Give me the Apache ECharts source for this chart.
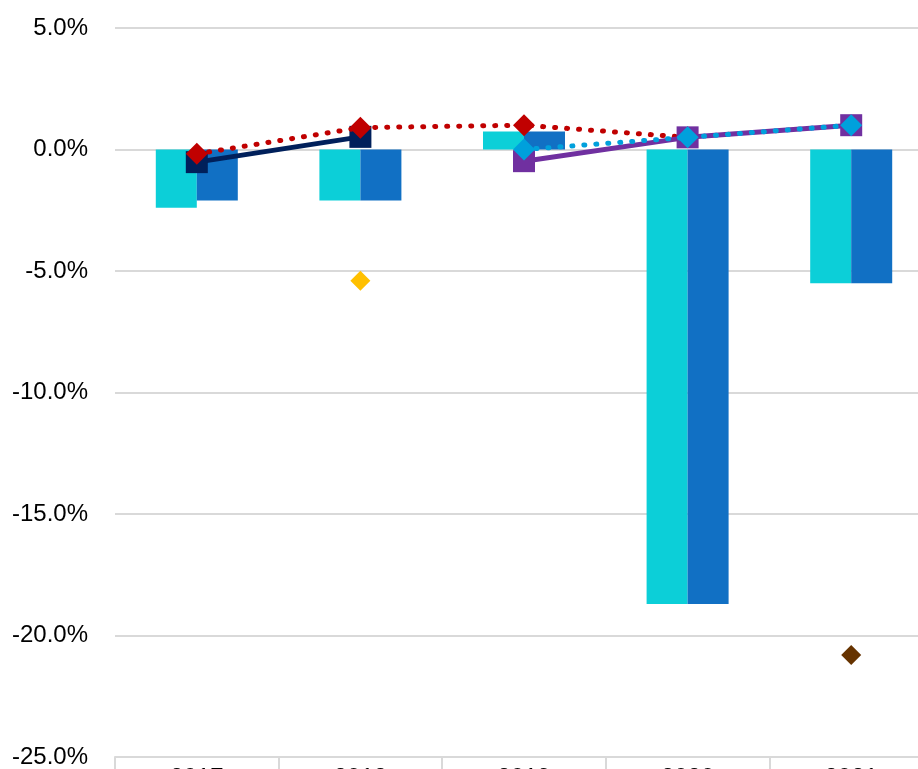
<!DOCTYPE html>
<html><head><meta charset="utf-8">
<script src="https://cdn.jsdelivr.net/npm/echarts@6/dist/echarts.min.js"></script>
<style>html,body{margin:0;padding:0;background:#fff}#c{width:918px;height:769px}</style>
</head><body><div id="c"></div>
<script>
const categories = ['2017', '2018', '2019', '2020', '2021'];
const barCyan = [-2.4, -2.1, 0.74, -18.7, -5.5];
const barBlue = [-2.1, -2.1, 0.74, -18.7, -5.5];
const lineNavy = [-0.52, 0.52, null, null, null];
const lineRed = [-0.18, 0.9, 1.0, 0.5, null];
const linePurple = [null, null, -0.48, 0.5, 1.0];
const lineLightBlue = [null, null, 0.0, 0.5, 1.0];
const pointYellow = [null, -5.4, null, null, null];
const pointBrown = [null, null, null, null, -20.8];
const yTicks = { min: -25, max: 5, interval: 5 };

const chart = echarts.init(document.getElementById('c'), null, { renderer: 'canvas' });
const font = 'Liberation Sans';
chart.setOption({
  animation: false,
  grid: { left: 115, right: -15, top: 28, bottom: 12, containLabel: false, outerBoundsMode: 'none' },
  xAxis: {
    type: 'category', data: categories,
    axisLine: { show: true, onZero: false, lineStyle: { color: '#d9d9d9', width: 2 } },
    axisTick: { show: true, length: 14, lineStyle: { color: '#d9d9d9', width: 2 } },
    axisLabel: { color: '#000', fontFamily: font, fontSize: 24, margin: 9 },
    splitLine: { show: false }
  },
  yAxis: {
    type: 'value', min: yTicks.min, max: yTicks.max, interval: yTicks.interval,
    axisLine: { show: false }, axisTick: { show: false },
    axisLabel: { color: '#000', fontFamily: font, fontSize: 24, margin: 27,
      formatter: v => v.toFixed(1) + '%' },
    splitLine: { lineStyle: { color: '#d9d9d9', width: 2 } }
  },
  series: [
    { type: 'bar', data: barCyan, barWidth: 41, barGap: '0%', itemStyle: { color: '#0ccfd8' }, z: 1 },
    { type: 'bar', data: barBlue, barWidth: 41, barGap: '0%', itemStyle: { color: '#1170c4' }, z: 1 },
    { type: 'line', data: lineNavy, symbol: 'rect', symbolSize: 22, itemStyle: { color: '#00205b' },
      lineStyle: { color: '#00205b', width: 5 }, z: 3 },
    { type: 'line', data: lineRed, symbol: 'diamond', symbolSize: 22, itemStyle: { color: '#c00000' },
      lineStyle: { color: '#c00000', width: 5, type: [1, 11], cap: 'round' }, z: 4 },
    { type: 'line', data: linePurple, symbol: 'rect', symbolSize: 22, itemStyle: { color: '#7030a0' },
      lineStyle: { color: '#7030a0', width: 5 }, z: 5 },
    { type: 'line', data: lineLightBlue, symbol: 'diamond', symbolSize: 22, itemStyle: { color: '#00a0dc' },
      lineStyle: { color: '#00a0dc', width: 5, type: [1, 11], cap: 'round' }, z: 6 },
    { type: 'line', data: pointYellow, symbol: 'diamond', symbolSize: 20, itemStyle: { color: '#ffc000' },
      lineStyle: { width: 0 }, z: 7 },
    { type: 'line', data: pointBrown, symbol: 'diamond', symbolSize: 20, itemStyle: { color: '#663300' },
      lineStyle: { width: 0 }, z: 7 }
  ]
});
</script></body></html>
